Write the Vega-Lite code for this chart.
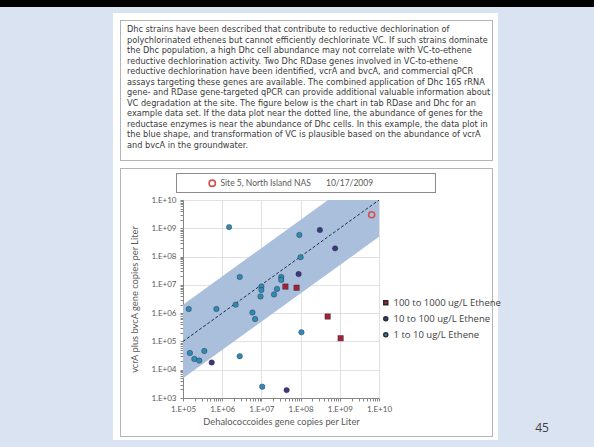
{
  "$schema": "https://vega.github.io/schema/vega-lite/v6.json",
  "background": "white",
  "padding": 0,
  "config": {"view": {"stroke": null}, "font": "Lato"},
  "datasets": {
    "points": [
      {"dhc": 1.5e6, "vcr": 1.1e9, "ethene": "1 to 10 ug/L Ethene"},
      {"dhc": 9.3e7, "vcr": 5.8e8, "ethene": "1 to 10 ug/L Ethene"},
      {"dhc": 1.0e8, "vcr": 9.5e7, "ethene": "1 to 10 ug/L Ethene"},
      {"dhc": 2.8e6, "vcr": 1.9e7, "ethene": "1 to 10 ug/L Ethene"},
      {"dhc": 3.2e7, "vcr": 1.9e7, "ethene": "1 to 10 ug/L Ethene"},
      {"dhc": 3.2e7, "vcr": 1.5e7, "ethene": "1 to 10 ug/L Ethene"},
      {"dhc": 1.0e7, "vcr": 8.7e6, "ethene": "1 to 10 ug/L Ethene"},
      {"dhc": 1.0e7, "vcr": 6.6e6, "ethene": "1 to 10 ug/L Ethene"},
      {"dhc": 2.5e7, "vcr": 7.2e6, "ethene": "1 to 10 ug/L Ethene"},
      {"dhc": 9.5e6, "vcr": 3.9e6, "ethene": "1 to 10 ug/L Ethene"},
      {"dhc": 2.1e7, "vcr": 4.6e6, "ethene": "1 to 10 ug/L Ethene"},
      {"dhc": 2.2e6, "vcr": 2.0e6, "ethene": "1 to 10 ug/L Ethene"},
      {"dhc": 1.4e5, "vcr": 1.4e6, "ethene": "1 to 10 ug/L Ethene"},
      {"dhc": 7.1e5, "vcr": 1.4e6, "ethene": "1 to 10 ug/L Ethene"},
      {"dhc": 5.9e6, "vcr": 1.05e6, "ethene": "1 to 10 ug/L Ethene"},
      {"dhc": 6.9e6, "vcr": 6.2e5, "ethene": "1 to 10 ug/L Ethene"},
      {"dhc": 1.05e8, "vcr": 2.1e5, "ethene": "1 to 10 ug/L Ethene"},
      {"dhc": 1.5e5, "vcr": 3.9e4, "ethene": "1 to 10 ug/L Ethene"},
      {"dhc": 1.95e5, "vcr": 2.4e4, "ethene": "1 to 10 ug/L Ethene"},
      {"dhc": 2.6e5, "vcr": 2.1e4, "ethene": "1 to 10 ug/L Ethene"},
      {"dhc": 3.5e5, "vcr": 4.6e4, "ethene": "1 to 10 ug/L Ethene"},
      {"dhc": 2.8e6, "vcr": 3.0e4, "ethene": "1 to 10 ug/L Ethene"},
      {"dhc": 1.05e7, "vcr": 2.5e3, "ethene": "1 to 10 ug/L Ethene"},
      {"dhc": 3.1e8, "vcr": 8.7e8, "ethene": "10 to 100 ug/L Ethene"},
      {"dhc": 7.6e8, "vcr": 1.95e8, "ethene": "10 to 100 ug/L Ethene"},
      {"dhc": 8.9e7, "vcr": 2.4e7, "ethene": "10 to 100 ug/L Ethene"},
      {"dhc": 5.4e5, "vcr": 1.8e4, "ethene": "10 to 100 ug/L Ethene"},
      {"dhc": 4.4e7, "vcr": 1.9e3, "ethene": "10 to 100 ug/L Ethene"},
      {"dhc": 4.1e7, "vcr": 8.7e6, "ethene": "100 to 1000 ug/L Ethene"},
      {"dhc": 7.9e7, "vcr": 7.9e6, "ethene": "100 to 1000 ug/L Ethene"},
      {"dhc": 4.9e8, "vcr": 7.6e5, "ethene": "100 to 1000 ug/L Ethene"},
      {"dhc": 1.05e9, "vcr": 1.3e5, "ethene": "100 to 1000 ug/L Ethene"}
    ],
    "band": [
      {"dhc": 1e5, "vcr": 2e6, "vcr_low": 5e3},
      {"dhc": 1e10, "vcr": 2e11, "vcr_low": 5e8}
    ],
    "diag": [
      {"dhc": 1e5, "vcr": 1e5},
      {"dhc": 1e10, "vcr": 1e10}
    ],
    "site": [
      {"dhc": 6.5e9, "vcr": 3.0e9, "site": "Site 5, North Island NAS"}
    ]
  },
  "columns": 13,
  "spacing": 0,
  "bounds": "flush",
  "align": "each",
  "concat": [
    {"data":{"values":[]},"mark":"point","width":113,"height":7,"view":{"fill":"#000000"}},
    {"data":{"values":[]},"mark":"point","width":7,"height":7,"view":{"fill":"#000000"}},
    {"data":{"values":[]},"mark":"point","width":1,"height":7,"view":{"fill":"#000000"}},
    {"data":{"values":[]},"mark":"point","width":55,"height":7,"view":{"fill":"#000000"}},
    {"data":{"values":[]},"mark":"point","width":1,"height":7,"view":{"fill":"#000000"}},
    {"data":{"values":[]},"mark":"point","width":6,"height":7,"view":{"fill":"#000000"}},
    {"data":{"values":[]},"mark":"point","width":196,"height":7,"view":{"fill":"#000000"}},
    {"data":{"values":[]},"mark":"point","width":56,"height":7,"view":{"fill":"#000000"}},
    {"data":{"values":[]},"mark":"point","width":1,"height":7,"view":{"fill":"#000000"}},
    {"data":{"values":[]},"mark":"point","width":56,"height":7,"view":{"fill":"#000000"}},
    {"data":{"values":[]},"mark":"point","width":1,"height":7,"view":{"fill":"#000000"}},
    {"data":{"values":[]},"mark":"point","width":5,"height":7,"view":{"fill":"#000000"}},
    {"data":{"values":[]},"mark":"point","width":96,"height":7,"view":{"fill":"#000000"}},

    {"data":{"values":[]},"mark":"point","width":113,"height":6,"view":{"fill":"#dae3f2"}},
    {"data":{"values":[]},"mark":"point","width":7,"height":6,"view":{"fill":"#dae3f2"}},
    {"data":{"values":[]},"mark":"point","width":1,"height":6,"view":{"fill":"#dae3f2"}},
    {"data":{"values":[]},"mark":"point","width":55,"height":6,"view":{"fill":"#dae3f2"}},
    {"data":{"values":[]},"mark":"point","width":1,"height":6,"view":{"fill":"#dae3f2"}},
    {"data":{"values":[]},"mark":"point","width":6,"height":6,"view":{"fill":"#dae3f2"}},
    {"data":{"values":[]},"mark":"point","width":196,"height":6,"view":{"fill":"#dae3f2"}},
    {"data":{"values":[]},"mark":"point","width":56,"height":6,"view":{"fill":"#dae3f2"}},
    {"data":{"values":[]},"mark":"point","width":1,"height":6,"view":{"fill":"#dae3f2"}},
    {"data":{"values":[]},"mark":"point","width":56,"height":6,"view":{"fill":"#dae3f2"}},
    {"data":{"values":[]},"mark":"point","width":1,"height":6,"view":{"fill":"#dae3f2"}},
    {"data":{"values":[]},"mark":"point","width":5,"height":6,"view":{"fill":"#dae3f2"}},
    {"data":{"values":[]},"mark":"point","width":96,"height":6,"view":{"fill":"#dae3f2"}},

    {"data":{"values":[]},"mark":"point","width":113,"height":7,"view":{"fill":"#dae3f2"}},
    {"data":{"values":[]},"mark":"point","width":7,"height":7},
    {"data":{"values":[]},"mark":"point","width":1,"height":7},
    {"data":{"values":[]},"mark":"point","width":55,"height":7},
    {"data":{"values":[]},"mark":"point","width":1,"height":7},
    {"data":{"values":[]},"mark":"point","width":6,"height":7},
    {"data":{"values":[]},"mark":"point","width":196,"height":7},
    {"data":{"values":[]},"mark":"point","width":56,"height":7},
    {"data":{"values":[]},"mark":"point","width":1,"height":7},
    {"data":{"values":[]},"mark":"point","width":56,"height":7},
    {"data":{"values":[]},"mark":"point","width":1,"height":7},
    {"data":{"values":[]},"mark":"point","width":5,"height":7},
    {"data":{"values":[]},"mark":"point","width":96,"height":7,"view":{"fill":"#dae3f2"}},

    {"data":{"values":[]},"mark":"point","width":113,"height":1,"view":{"fill":"#dae3f2"}},
    {"data":{"values":[]},"mark":"point","width":7,"height":1},
    {"data":{"values":[]},"mark":"point","width":1,"height":1,"view":{"fill":"#b4b4b4"}},
    {"data":{"values":[]},"mark":"point","width":55,"height":1,"view":{"fill":"#b4b4b4"}},
    {"data":{"values":[]},"mark":"point","width":1,"height":1,"view":{"fill":"#b4b4b4"}},
    {"data":{"values":[]},"mark":"point","width":6,"height":1,"view":{"fill":"#b4b4b4"}},
    {"data":{"values":[]},"mark":"point","width":196,"height":1,"view":{"fill":"#b4b4b4"}},
    {"data":{"values":[]},"mark":"point","width":56,"height":1,"view":{"fill":"#b4b4b4"}},
    {"data":{"values":[]},"mark":"point","width":1,"height":1,"view":{"fill":"#b4b4b4"}},
    {"data":{"values":[]},"mark":"point","width":56,"height":1,"view":{"fill":"#b4b4b4"}},
    {"data":{"values":[]},"mark":"point","width":1,"height":1,"view":{"fill":"#b4b4b4"}},
    {"data":{"values":[]},"mark":"point","width":5,"height":1},
    {"data":{"values":[]},"mark":"point","width":96,"height":1,"view":{"fill":"#dae3f2"}},

    {"data":{"values":[]},"mark":"point","width":113,"height":139,"view":{"fill":"#dae3f2"}},
    {"data":{"values":[]},"mark":"point","width":7,"height":139},
    {"data":{"values":[]},"mark":"point","width":1,"height":139,"view":{"fill":"#b4b4b4"}},
    {
      "data": {"values": []}, "mark": "point", "width": 55, "height": 139,
      "title": {
        "text": [
          "Dhc strains have been described that contribute to reductive dechlorination of",
          "polychlorinated ethenes but cannot efficiently dechlorinate VC.  If such strains dominate",
          "the Dhc population, a high Dhc cell abundance may not correlate with VC-to-ethene",
          "reductive dechlorination activity.  Two Dhc RDase genes involved in VC-to-ethene",
          "reductive dechlorination have been identified, vcrA and bvcA, and commercial qPCR",
          "assays targeting these genes are available.  The combined application of Dhc 16S rRNA",
          "gene- and RDase gene-targeted qPCR can provide additional valuable information about",
          "VC degradation at the site.  The figure below is the chart in tab RDase and Dhc for an",
          "example data set.  If the data plot near the dotted line, the abundance of genes for the",
          "reductase enzymes is near the abundance of Dhc cells.  In this example, the data plot in",
          "the blue shape, and transformation of VC is plausible based on the abundance of vcrA",
          "and bvcA in the groundwater."
        ],
        "orient": "bottom", "anchor": "start", "frame": "group",
        "offset": -134, "dx": 6,
        "font": "DejaVu Sans", "fontSize": 8.2, "fontWeight": "normal",
        "color": "#3a3a3a", "lineHeight": 10.5
      }
    },
    {"data":{"values":[]},"mark":"point","width":1,"height":139},
    {"data":{"values":[]},"mark":"point","width":6,"height":139},
    {"data":{"values":[]},"mark":"point","width":196,"height":139},
    {"data":{"values":[]},"mark":"point","width":56,"height":139},
    {"data":{"values":[]},"mark":"point","width":1,"height":139},
    {"data":{"values":[]},"mark":"point","width":56,"height":139},
    {"data":{"values":[]},"mark":"point","width":1,"height":139,"view":{"fill":"#b4b4b4"}},
    {"data":{"values":[]},"mark":"point","width":5,"height":139},
    {"data":{"values":[]},"mark":"point","width":96,"height":139,"view":{"fill":"#dae3f2"}},

    {"data":{"values":[]},"mark":"point","width":113,"height":1,"view":{"fill":"#dae3f2"}},
    {"data":{"values":[]},"mark":"point","width":7,"height":1},
    {"data":{"values":[]},"mark":"point","width":1,"height":1,"view":{"fill":"#b4b4b4"}},
    {"data":{"values":[]},"mark":"point","width":55,"height":1,"view":{"fill":"#b4b4b4"}},
    {"data":{"values":[]},"mark":"point","width":1,"height":1,"view":{"fill":"#b4b4b4"}},
    {"data":{"values":[]},"mark":"point","width":6,"height":1,"view":{"fill":"#b4b4b4"}},
    {"data":{"values":[]},"mark":"point","width":196,"height":1,"view":{"fill":"#b4b4b4"}},
    {"data":{"values":[]},"mark":"point","width":56,"height":1,"view":{"fill":"#b4b4b4"}},
    {"data":{"values":[]},"mark":"point","width":1,"height":1,"view":{"fill":"#b4b4b4"}},
    {"data":{"values":[]},"mark":"point","width":56,"height":1,"view":{"fill":"#b4b4b4"}},
    {"data":{"values":[]},"mark":"point","width":1,"height":1,"view":{"fill":"#b4b4b4"}},
    {"data":{"values":[]},"mark":"point","width":5,"height":1},
    {"data":{"values":[]},"mark":"point","width":96,"height":1,"view":{"fill":"#dae3f2"}},

    {"data":{"values":[]},"mark":"point","width":113,"height":7,"view":{"fill":"#dae3f2"}},
    {"data":{"values":[]},"mark":"point","width":7,"height":7},
    {"data":{"values":[]},"mark":"point","width":1,"height":7},
    {"data":{"values":[]},"mark":"point","width":55,"height":7},
    {"data":{"values":[]},"mark":"point","width":1,"height":7},
    {"data":{"values":[]},"mark":"point","width":6,"height":7},
    {"data":{"values":[]},"mark":"point","width":196,"height":7},
    {"data":{"values":[]},"mark":"point","width":56,"height":7},
    {"data":{"values":[]},"mark":"point","width":1,"height":7},
    {"data":{"values":[]},"mark":"point","width":56,"height":7},
    {"data":{"values":[]},"mark":"point","width":1,"height":7},
    {"data":{"values":[]},"mark":"point","width":5,"height":7},
    {"data":{"values":[]},"mark":"point","width":96,"height":7,"view":{"fill":"#dae3f2"}},

    {"data":{"values":[]},"mark":"point","width":113,"height":1,"view":{"fill":"#dae3f2"}},
    {"data":{"values":[]},"mark":"point","width":7,"height":1},
    {"data":{"values":[]},"mark":"point","width":1,"height":1,"view":{"fill":"#b4b4b4"}},
    {"data":{"values":[]},"mark":"point","width":55,"height":1,"view":{"fill":"#b4b4b4"}},
    {"data":{"values":[]},"mark":"point","width":1,"height":1,"view":{"fill":"#b4b4b4"}},
    {"data":{"values":[]},"mark":"point","width":6,"height":1,"view":{"fill":"#b4b4b4"}},
    {"data":{"values":[]},"mark":"point","width":196,"height":1,"view":{"fill":"#b4b4b4"}},
    {"data":{"values":[]},"mark":"point","width":56,"height":1,"view":{"fill":"#b4b4b4"}},
    {"data":{"values":[]},"mark":"point","width":1,"height":1,"view":{"fill":"#b4b4b4"}},
    {"data":{"values":[]},"mark":"point","width":56,"height":1,"view":{"fill":"#b4b4b4"}},
    {"data":{"values":[]},"mark":"point","width":1,"height":1,"view":{"fill":"#b4b4b4"}},
    {"data":{"values":[]},"mark":"point","width":5,"height":1},
    {"data":{"values":[]},"mark":"point","width":96,"height":1,"view":{"fill":"#dae3f2"}},

    {"data":{"values":[]},"mark":"point","width":113,"height":4,"view":{"fill":"#dae3f2"}},
    {"data":{"values":[]},"mark":"point","width":7,"height":4},
    {"data":{"values":[]},"mark":"point","width":1,"height":4,"view":{"fill":"#b4b4b4"}},
    {"data":{"values":[]},"mark":"point","width":55,"height":4},
    {"data":{"values":[]},"mark":"point","width":1,"height":4},
    {"data":{"values":[]},"mark":"point","width":6,"height":4},
    {"data":{"values":[]},"mark":"point","width":196,"height":4},
    {"data":{"values":[]},"mark":"point","width":56,"height":4},
    {"data":{"values":[]},"mark":"point","width":1,"height":4},
    {"data":{"values":[]},"mark":"point","width":56,"height":4},
    {"data":{"values":[]},"mark":"point","width":1,"height":4,"view":{"fill":"#b4b4b4"}},
    {"data":{"values":[]},"mark":"point","width":5,"height":4},
    {"data":{"values":[]},"mark":"point","width":96,"height":4,"view":{"fill":"#dae3f2"}},

    {"data":{"values":[]},"mark":"point","width":113,"height":1,"view":{"fill":"#dae3f2"}},
    {"data":{"values":[]},"mark":"point","width":7,"height":1},
    {"data":{"values":[]},"mark":"point","width":1,"height":1,"view":{"fill":"#b4b4b4"}},
    {"data":{"values":[]},"mark":"point","width":55,"height":1},
    {"data":{"values":[]},"mark":"point","width":1,"height":1,"view":{"fill":"#8c8c8c"}},
    {"data":{"values":[]},"mark":"point","width":6,"height":1,"view":{"fill":"#8c8c8c"}},
    {"data":{"values":[]},"mark":"point","width":196,"height":1,"view":{"fill":"#8c8c8c"}},
    {"data":{"values":[]},"mark":"point","width":56,"height":1,"view":{"fill":"#8c8c8c"}},
    {"data":{"values":[]},"mark":"point","width":1,"height":1,"view":{"fill":"#8c8c8c"}},
    {"data":{"values":[]},"mark":"point","width":56,"height":1},
    {"data":{"values":[]},"mark":"point","width":1,"height":1,"view":{"fill":"#b4b4b4"}},
    {"data":{"values":[]},"mark":"point","width":5,"height":1},
    {"data":{"values":[]},"mark":"point","width":96,"height":1,"view":{"fill":"#dae3f2"}},

    {"data":{"values":[]},"mark":"point","width":113,"height":18,"view":{"fill":"#dae3f2"}},
    {"data":{"values":[]},"mark":"point","width":7,"height":18},
    {"data":{"values":[]},"mark":"point","width":1,"height":18,"view":{"fill":"#b4b4b4"}},
    {"data":{"values":[]},"mark":"point","width":55,"height":18},
    {"data":{"values":[]},"mark":"point","width":1,"height":18,"view":{"fill":"#8c8c8c"}},
    {"data":{"values":[]},"mark":"point","width":6,"height":18},
    {"data":{"values":[]},"mark":"point","width":196,"height":18},
    {"data":{"values":[]},"mark":"point","width":56,"height":18},
    {"data":{"values":[]},"mark":"point","width":1,"height":18,"view":{"fill":"#8c8c8c"}},
    {"data":{"values":[]},"mark":"point","width":56,"height":18},
    {"data":{"values":[]},"mark":"point","width":1,"height":18,"view":{"fill":"#b4b4b4"}},
    {"data":{"values":[]},"mark":"point","width":5,"height":18},
    {"data":{"values":[]},"mark":"point","width":96,"height":18,"view":{"fill":"#dae3f2"}},

    {"data":{"values":[]},"mark":"point","width":113,"height":1,"view":{"fill":"#dae3f2"}},
    {"data":{"values":[]},"mark":"point","width":7,"height":1},
    {"data":{"values":[]},"mark":"point","width":1,"height":1,"view":{"fill":"#b4b4b4"}},
    {"data":{"values":[]},"mark":"point","width":55,"height":1},
    {"data":{"values":[]},"mark":"point","width":1,"height":1,"view":{"fill":"#8c8c8c"}},
    {"data":{"values":[]},"mark":"point","width":6,"height":1,"view":{"fill":"#8c8c8c"}},
    {"data":{"values":[]},"mark":"point","width":196,"height":1,"view":{"fill":"#8c8c8c"}},
    {"data":{"values":[]},"mark":"point","width":56,"height":1,"view":{"fill":"#8c8c8c"}},
    {"data":{"values":[]},"mark":"point","width":1,"height":1,"view":{"fill":"#8c8c8c"}},
    {"data":{"values":[]},"mark":"point","width":56,"height":1},
    {"data":{"values":[]},"mark":"point","width":1,"height":1,"view":{"fill":"#b4b4b4"}},
    {"data":{"values":[]},"mark":"point","width":5,"height":1},
    {"data":{"values":[]},"mark":"point","width":96,"height":1,"view":{"fill":"#dae3f2"}},

    {"data":{"values":[]},"mark":"point","width":113,"height":7,"view":{"fill":"#dae3f2"}},
    {"data":{"values":[]},"mark":"point","width":7,"height":7},
    {"data":{"values":[]},"mark":"point","width":1,"height":7,"view":{"fill":"#b4b4b4"}},
    {"data":{"values":[]},"mark":"point","width":55,"height":7},
    {"data":{"values":[]},"mark":"point","width":1,"height":7},
    {"data":{"values":[]},"mark":"point","width":6,"height":7},
    {"data":{"values":[]},"mark":"point","width":196,"height":7},
    {"data":{"values":[]},"mark":"point","width":56,"height":7},
    {"data":{"values":[]},"mark":"point","width":1,"height":7},
    {"data":{"values":[]},"mark":"point","width":56,"height":7},
    {"data":{"values":[]},"mark":"point","width":1,"height":7,"view":{"fill":"#b4b4b4"}},
    {"data":{"values":[]},"mark":"point","width":5,"height":7},
    {"data":{"values":[]},"mark":"point","width":96,"height":7,"view":{"fill":"#dae3f2"}},

    {"data":{"values":[]},"mark":"point","width":113,"height":198,"view":{"fill":"#dae3f2"}},
    {"data":{"values":[]},"mark":"point","width":7,"height":198},
    {"data":{"values":[]},"mark":"point","width":1,"height":198,"view":{"fill":"#b4b4b4"}},
    {"data":{"values":[]},"mark":"point","width":55,"height":198},
    {"data":{"values":[]},"mark":"point","width":1,"height":198},
    {"data":{"values":[]},"mark":"point","width":6,"height":198},
    {
      "width": 196, "height": 198,
      "view": {"fill": "white"},
      "encoding": {
        "x": {
          "field": "dhc", "type": "quantitative",
          "scale": {"type": "log", "domain": [1e5, 1e10], "nice": false},
          "axis": {
            "title": "Dehalococcoides  gene copies per Liter",
            "tickCount": 50,
            "labelExpr": "abs(log(datum.value)/LN10 - round(log(datum.value)/LN10)) < 0.001 ? '1.E+' + (round(log(datum.value)/LN10) < 10 ? '0' : '') + round(log(datum.value)/LN10) : ''",
            "labelOverlap": false, "labelFlush": false, "labelBound": false,
            "grid": true, "gridColor": "#d9d9d9", "gridWidth": 0.8,
            "gridOpacity": {"condition": {"test": "abs(log(datum.value)/LN10 - round(log(datum.value)/LN10)) < 0.001", "value": 1}, "value": 0},
            "domainColor": "#868686", "tickColor": "#868686", "tickSize": 3,
            "labelFont": "Lato", "labelFontSize": 8, "labelColor": "#595959", "labelPadding": 4,
            "titleFont": "Lato", "titleFontSize": 9.3, "titleFontWeight": "normal", "titleColor": "#595959", "titlePadding": 4
          }
        },
        "y": {
          "field": "vcr", "type": "quantitative",
          "scale": {"type": "log", "domain": [1e3, 1e10], "nice": false},
          "axis": {
            "title": "vcrA plus bvcA gene copies per Liter",
            "tickCount": 50,
            "labelExpr": "abs(log(datum.value)/LN10 - round(log(datum.value)/LN10)) < 0.001 ? '1.E+' + (round(log(datum.value)/LN10) < 10 ? '0' : '') + round(log(datum.value)/LN10) : ''",
            "labelOverlap": false, "labelFlush": false, "labelBound": false,
            "grid": true, "gridColor": "#d9d9d9", "gridWidth": 0.8,
            "gridOpacity": {"condition": {"test": "abs(log(datum.value)/LN10 - round(log(datum.value)/LN10)) < 0.001", "value": 1}, "value": 0},
            "domainColor": "#868686", "tickColor": "#868686", "tickSize": 3,
            "labelFont": "Lato", "labelFontSize": 8, "labelColor": "#595959", "labelPadding": 4,
            "titleFont": "Lato", "titleFontSize": 9.3, "titleFontWeight": "normal", "titleColor": "#595959", "titlePadding": 11
          }
        }
      },
      "layer": [
        {
          "data": {"name": "band"},
          "mark": {"type": "area", "color": "#a9bfdc", "opacity": 1, "clip": true},
          "encoding": {"y2": {"field": "vcr_low"}}
        },
        {
          "data": {"name": "diag"},
          "mark": {"type": "line", "color": "#1f2a44", "strokeDash": [3, 2], "strokeWidth": 1, "clip": true},
          "encoding": {}
        },
        {
          "data": {"name": "points"},
          "mark": {"type": "point", "filled": true, "opacity": 1, "size": 30, "stroke": "#2a2a2a", "strokeWidth": 0.4},
          "encoding": {
            "color": {
              "field": "ethene", "type": "nominal",
              "scale": {"domain": ["100 to 1000 ug/L Ethene", "10 to 100 ug/L Ethene", "1 to 10 ug/L Ethene"], "range": ["#a0233a", "#3b3781", "#2f8ab8"]},
              "legend": {
                "orient": "none", "legendX": 381, "legendY": 298, "title": null,
                "labelFont": "Open Sans", "labelFontSize": 9.5, "labelColor": "#404040",
                "symbolSize": 16, "rowPadding": 5, "labelOffset": 3, "labelLimit": 0
              }
            },
            "shape": {
              "field": "ethene", "type": "nominal",
              "scale": {"domain": ["100 to 1000 ug/L Ethene", "10 to 100 ug/L Ethene", "1 to 10 ug/L Ethene"], "range": ["square", "circle", "circle"]},
              "legend": {
                "orient": "none", "legendX": 381, "legendY": 298, "title": null,
                "labelFont": "Open Sans", "labelFontSize": 9.5, "labelColor": "#404040",
                "symbolSize": 16, "rowPadding": 5, "labelOffset": 3, "labelLimit": 0
              }
            }
          }
        },
        {
          "data": {"name": "site"},
          "mark": {"type": "point", "filled": false, "size": 36, "strokeWidth": 1.6, "opacity": 1},
          "encoding": {
            "stroke": {
              "field": "site", "type": "nominal",
              "scale": {"range": ["#d4504f"]},
              "legend": {
                "orient": "none", "legendX": 208, "legendY": 179, "title": null,
                "padding": 0, "symbolOffset": 0, "symbolSize": 40, "symbolStrokeWidth": 1.6,
                "labelFont": "Lato", "labelFontSize": 8.5, "labelColor": "#595959", "labelLimit": 0,
                "labelExpr": "datum.label + '\u00a0\u00a0\u00a0\u00a0\u00a0\u00a0\u00a010/17/2009'"
              }
            }
          }
        }
      ]
    },
    {"data":{"values":[]},"mark":"point","width":56,"height":198},
    {"data":{"values":[]},"mark":"point","width":1,"height":198},
    {"data":{"values":[]},"mark":"point","width":56,"height":198},
    {"data":{"values":[]},"mark":"point","width":1,"height":198,"view":{"fill":"#b4b4b4"}},
    {"data":{"values":[]},"mark":"point","width":5,"height":198},
    {"data":{"values":[]},"mark":"point","width":96,"height":198,"view":{"fill":"#dae3f2"}},

    {"data":{"values":[]},"mark":"point","width":113,"height":38,"view":{"fill":"#dae3f2"}},
    {"data":{"values":[]},"mark":"point","width":7,"height":38},
    {"data":{"values":[]},"mark":"point","width":1,"height":38,"view":{"fill":"#b4b4b4"}},
    {"data":{"values":[]},"mark":"point","width":55,"height":38},
    {"data":{"values":[]},"mark":"point","width":1,"height":38},
    {"data":{"values":[]},"mark":"point","width":6,"height":38},
    {"data":{"values":[]},"mark":"point","width":196,"height":38},
    {"data":{"values":[]},"mark":"point","width":56,"height":38},
    {"data":{"values":[]},"mark":"point","width":1,"height":38},
    {"data":{"values":[]},"mark":"point","width":56,"height":38},
    {"data":{"values":[]},"mark":"point","width":1,"height":38,"view":{"fill":"#b4b4b4"}},
    {"data":{"values":[]},"mark":"point","width":5,"height":38},
    {
      "data": {"values": []}, "mark": "point", "width": 96, "height": 38, "view": {"fill": "#dae3f2"},
      "title": {"text": "45", "orient": "bottom", "anchor": "middle", "dx": -4, "offset": -13, "font": "Open Sans", "fontSize": 12, "fontWeight": "normal", "color": "#404040"}
    },

    {"data":{"values":[]},"mark":"point","width":113,"height":1,"view":{"fill":"#dae3f2"}},
    {"data":{"values":[]},"mark":"point","width":7,"height":1},
    {"data":{"values":[]},"mark":"point","width":1,"height":1,"view":{"fill":"#b4b4b4"}},
    {"data":{"values":[]},"mark":"point","width":55,"height":1,"view":{"fill":"#b4b4b4"}},
    {"data":{"values":[]},"mark":"point","width":1,"height":1,"view":{"fill":"#b4b4b4"}},
    {"data":{"values":[]},"mark":"point","width":6,"height":1,"view":{"fill":"#b4b4b4"}},
    {"data":{"values":[]},"mark":"point","width":196,"height":1,"view":{"fill":"#b4b4b4"}},
    {"data":{"values":[]},"mark":"point","width":56,"height":1,"view":{"fill":"#b4b4b4"}},
    {"data":{"values":[]},"mark":"point","width":1,"height":1,"view":{"fill":"#b4b4b4"}},
    {"data":{"values":[]},"mark":"point","width":56,"height":1,"view":{"fill":"#b4b4b4"}},
    {"data":{"values":[]},"mark":"point","width":1,"height":1,"view":{"fill":"#b4b4b4"}},
    {"data":{"values":[]},"mark":"point","width":5,"height":1},
    {"data":{"values":[]},"mark":"point","width":96,"height":1,"view":{"fill":"#dae3f2"}},

    {"data":{"values":[]},"mark":"point","width":113,"height":3,"view":{"fill":"#dae3f2"}},
    {"data":{"values":[]},"mark":"point","width":7,"height":3},
    {"data":{"values":[]},"mark":"point","width":1,"height":3},
    {"data":{"values":[]},"mark":"point","width":55,"height":3},
    {"data":{"values":[]},"mark":"point","width":1,"height":3},
    {"data":{"values":[]},"mark":"point","width":6,"height":3},
    {"data":{"values":[]},"mark":"point","width":196,"height":3},
    {"data":{"values":[]},"mark":"point","width":56,"height":3},
    {"data":{"values":[]},"mark":"point","width":1,"height":3},
    {"data":{"values":[]},"mark":"point","width":56,"height":3},
    {"data":{"values":[]},"mark":"point","width":1,"height":3},
    {"data":{"values":[]},"mark":"point","width":5,"height":3},
    {"data":{"values":[]},"mark":"point","width":96,"height":3,"view":{"fill":"#dae3f2"}},

    {"data":{"values":[]},"mark":"point","width":113,"height":7,"view":{"fill":"#dae3f2"}},
    {"data":{"values":[]},"mark":"point","width":7,"height":7,"view":{"fill":"#dae3f2"}},
    {"data":{"values":[]},"mark":"point","width":1,"height":7,"view":{"fill":"#dae3f2"}},
    {"data":{"values":[]},"mark":"point","width":55,"height":7,"view":{"fill":"#dae3f2"}},
    {"data":{"values":[]},"mark":"point","width":1,"height":7,"view":{"fill":"#dae3f2"}},
    {"data":{"values":[]},"mark":"point","width":6,"height":7,"view":{"fill":"#dae3f2"}},
    {"data":{"values":[]},"mark":"point","width":196,"height":7,"view":{"fill":"#dae3f2"}},
    {"data":{"values":[]},"mark":"point","width":56,"height":7,"view":{"fill":"#dae3f2"}},
    {"data":{"values":[]},"mark":"point","width":1,"height":7,"view":{"fill":"#dae3f2"}},
    {"data":{"values":[]},"mark":"point","width":56,"height":7,"view":{"fill":"#dae3f2"}},
    {"data":{"values":[]},"mark":"point","width":1,"height":7,"view":{"fill":"#dae3f2"}},
    {"data":{"values":[]},"mark":"point","width":5,"height":7,"view":{"fill":"#dae3f2"}},
    {"data":{"values":[]},"mark":"point","width":96,"height":7,"view":{"fill":"#dae3f2"}}
  ]
}
